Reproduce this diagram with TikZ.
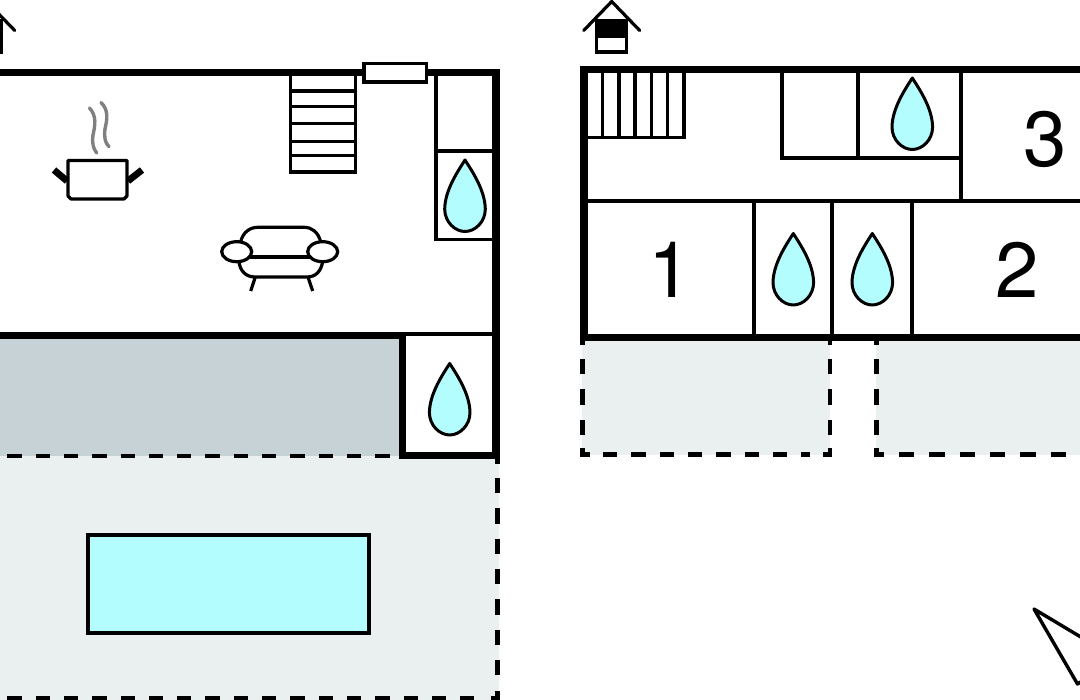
\documentclass[tikz,border=0pt]{standalone}
\usepackage{fontspec}
\setmainfont{TeX Gyre Heros}
\definecolor{waterblue}{HTML}{B3FDFF}
\definecolor{terrace}{HTML}{C7D2D6}
\definecolor{garden}{HTML}{EAF0F0}
\begin{document}
\begin{tikzpicture}[
      x=1pt, y=-1pt,
      wall/.style={line width=7.4pt, black},
      partition/.style={line width=3.7pt, black},
      thin line/.style={line width=3.2pt, black},
      border/.style={line width=4.6pt, black},
      dashes long/.style={border, dash pattern=on 15.3pt off 15pt},
      dashes short/.style={border, dash pattern=on 14.3pt off 14pt},
      digit/.style={font=\fontsize{78}{80}\selectfont, inner sep=0pt},
      drop/.pic={
        \draw[line width=3pt, fill=waterblue, line join=round] (0,0) .. controls (7,11) and (20,30) .. (20.3,49) .. controls (20.3,62) and (10,71.5) .. (0,71.5) .. controls (-10,71.5) and (-20.3,62) .. (-20.3,49) .. controls (-20,30) and (-7,11) .. (0,0) -- cycle;
      },
      house/.pic={
        \draw[line width=3.2pt, line cap=round, line join=round] (-28,29) -- (0,0) -- (28,29);
        \fill[black] (-17,18) rectangle (16,35);
        \draw[line width=3.4pt, fill=white] (-15.3,35) rectangle (14.5,50.5);
        \draw[line width=3.4pt] (-15.3,18) -- (-15.3,35) (14.5,18) -- (14.5,35);
      }
    ]
      \clip (0,0) rectangle (1080,700);
      \fill[white] (0,0) rectangle (1080,700);

      \fill[terrace] (-5,339) rectangle (399,456);
      \fill[garden] (-5,456) rectangle (499,700);
      \fill[garden] (582.3,341) rectangle (830,455);
      \fill[garden] (876.3,341) rectangle (1085,455);

      \draw[partition, line width=4pt, fill=waterblue] (88,534.7) rectangle (368.5,632.5);

      \draw[dashes short] (7.3,456) -- (392,456);
      \draw[dashes short] (7.3,698.3) -- (484,698.3);
      \draw[dashes long] (497.7,478) -- (497.7,677);
      \draw[border] (497.7,458) -- (497.7,464);
      \draw[border] (491,698.3) -- (497.7,698.3) -- (497.7,691);

      \draw[wall] (-5,72.7) -- (499.5,72.7);
      \draw[wall] (-5,335.5) -- (406,335.5);
      \draw[wall, line width=7.8pt] (495.7,69) -- (495.7,459);
      \draw[wall] (402.5,332) -- (402.5,455.5) -- (499,455.5);
      \draw[partition] (400,334) -- (493,334);
      \draw[partition] (436,76) -- (436,239.5) -- (493,239.5);
      \draw[partition] (436,151) -- (493,151);
      \draw[partition, fill=white] (364.3,63.6) rectangle (426.5,81.8);
      \draw[thin line] (290.5,76) -- (290.5,172) -- (355.5,172) -- (355.5,76);
      \draw[thin line] (290.5,91) -- (355.5,91);
      \draw[thin line] (290.5,106.7) -- (355.5,106.7);
      \draw[thin line] (290.5,123.3) -- (355.5,123.3);
      \draw[thin line] (290.5,141.7) -- (355.5,141.7);
      \draw[thin line] (290.5,155.7) -- (355.5,155.7);

      \draw[thin line, line join=round] (68,160.5) -- (127,160.5) -- (127,196) -- (124,199) -- (71,199) -- (68,196) -- cycle;
      \draw[line width=6.8pt] (54,170) -- (67,181);
      \draw[line width=6.8pt] (142,170) -- (128,181);
      \draw[line width=3.4pt, gray, line cap=round] (89.5,108) .. controls (97,116) and (95,126) .. (93,135) .. controls (92,143) and (93,148) .. (96.7,153);
      \draw[line width=3.4pt, gray, line cap=round] (101,102.5) .. controls (109,110) and (107,120) .. (105,129) .. controls (104,137) and (105,143) .. (109,146.7);

      \draw[thin line] (240.7,241.7) .. controls (243,232) and (250,227.3) .. (258,227.3) -- (304,227.3) .. controls (312,227.3) and (318,232) .. (320.7,241.7);
      \draw[thin line] (239,261.7) .. controls (240,271) and (246,277) .. (255,277) -- (307,277) .. controls (316,277) and (321,271) .. (322.7,261.7);
      \draw[thin line] (250,257) -- (310,257);
      \draw[thin line] (236.7,251.7) ellipse [x radius=15, y radius=10];
      \draw[thin line] (322.7,251.7) ellipse [x radius=15, y radius=10];
      \draw[thin line] (255,278) -- (250.7,291);
      \draw[thin line] (308.3,278) -- (312.7,291);

      \pic at (465,160) {drop};
      \pic at (449.7,363.5) {drop};
      \pic at (912.3,78) {drop};
      \pic at (793.3,233.5) {drop};
      \pic at (872.3,233.5) {drop};
      \pic at (611.7,1.5) {house};
      \pic at (-13.3,1.5) {house};

      \draw[dashes long] (582.3,359) -- (582.3,435);
      \draw[dashes long] (830,359) -- (830,435);
      \draw[dashes long] (876.3,359) -- (876.3,435);
      \draw[border] (582.3,340) -- (582.3,345);
      \draw[border] (830,340) -- (830,345);
      \draw[border] (876.3,340) -- (876.3,345);
      \draw[border] (582.3,448) -- (582.3,454.3) -- (590,454.3);
      \draw[border] (823,454.3) -- (830,454.3) -- (830,448);
      \draw[border] (876.3,448) -- (876.3,454.3) -- (884,454.3);
      \draw[dashes short] (603,454.3) -- (810,454.3);
      \draw[dashes long] (899,454.3) -- (1085,454.3);

      \draw[wall] (584,66) -- (584,341);
      \draw[wall] (580.5,69.5) -- (1085,69.5);
      \draw[wall] (580.5,337.5) -- (1085,337.5);
      \draw[partition] (587,201.3) -- (1085,201.3);
      \draw[partition] (754,201) -- (754,335);
      \draw[partition] (831.7,201) -- (831.7,335);
      \draw[partition] (912,201) -- (912,335);
      \draw[partition] (782.3,72) -- (782.3,157.7) -- (961,157.7);
      \draw[partition] (858.3,72) -- (858.3,157.7);
      \draw[partition] (961,72) -- (961,201);
      \draw[thin line] (586,137.3) -- (684,137.3) -- (684,72);
      \draw[thin line] (602.3,72) -- (602.3,137.3);
      \draw[thin line] (619,72) -- (619,137.3);
      \draw[thin line] (635,72) -- (635,137.3);
      \draw[thin line] (651.7,72) -- (651.7,137.3);
      \draw[thin line] (667.3,72) -- (667.3,137.3);

      \node[digit] (room1) at (670,270) {1};
      \node[digit] (room2) at (1016.7,270) {2};
      \node[digit] (room3) at (1045,139) {3};

      \draw[line width=3.4pt, line join=round] (1100,648.5) -- (1034,609) -- (1077.5,684) -- (1100,670);
    \end{tikzpicture}
\end{document}
